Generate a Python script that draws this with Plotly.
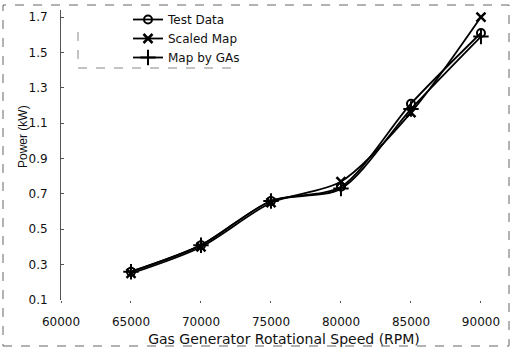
import plotly.graph_objects as go

rpm = [65000, 70000, 75000, 80000, 85000, 90000]
test_data = [0.26, 0.41, 0.66, 0.74, 1.21, 1.61]
scaled_map = [0.25, 0.40, 0.65, 0.77, 1.16, 1.70]
map_by_gas = [0.26, 0.41, 0.66, 0.73, 1.18, 1.59]

x_ticks = [60000, 65000, 70000, 75000, 80000, 85000, 90000]
y_ticks = [0.1, 0.3, 0.5, 0.7, 0.9, 1.1, 1.3, 1.5, 1.7]

font_family = "DejaVu Sans, sans-serif"
L, R, T, B = 61, 4, 10, 51
W, H = 511, 351
pw, ph = W - L - R, H - T - B


def px(x):
    return (x - L) / pw


def py(y):
    return (H - B - y) / ph


fig = go.Figure()
fig.add_trace(go.Scatter(
    x=rpm, y=test_data, name="Test Data", mode="lines+markers",
    line=dict(color="black", width=1.8, shape="spline", smoothing=0.8),
    marker=dict(symbol="circle-open", size=8, color="black", line=dict(width=2))))
fig.add_trace(go.Scatter(
    x=rpm, y=scaled_map, name="Scaled Map", mode="lines+markers",
    line=dict(color="black", width=1.8, shape="spline", smoothing=0.8),
    marker=dict(symbol="x-thin-open", size=9, color="black", line=dict(width=2.5))))
fig.add_trace(go.Scatter(
    x=rpm, y=map_by_gas, name="Map by GAs", mode="lines+markers",
    line=dict(color="black", width=1.8, shape="spline", smoothing=0.8),
    marker=dict(symbol="cross-thin-open", size=11, color="black", line=dict(width=2))))

fig.update_layout(
    width=W, height=H,
    margin=dict(l=L, r=R, t=T, b=B, autoexpand=False),
    paper_bgcolor="white", plot_bgcolor="white",
    font=dict(family=font_family, color="#111", size=12),
    showlegend=True,
    legend=dict(x=px(128), y=py(5), xanchor="left", yanchor="top",
                bgcolor="rgba(0,0,0,0)", borderwidth=0,
                font=dict(size=12), tracegroupgap=0, itemwidth=30),
    xaxis=dict(range=[60000, 91860], tickvals=x_ticks,
               ticktext=[str(v) for v in x_ticks],
               showgrid=False, zeroline=False, showline=False,
               ticks="outside", ticklen=2, tickcolor="#555",
               ticklabelstandoff=9, automargin=False,
               tickfont=dict(size=12),
               title=dict(text="Gas Generator Rotational Speed (RPM)",
                          font=dict(size=14), standoff=5)),
    yaxis=dict(range=[0.1, 1.74], tickvals=y_ticks,
               ticktext=[f"{v:.1f}" for v in y_ticks],
               showgrid=False, zeroline=False, showline=True,
               linecolor="#555", linewidth=1,
               ticks="inside", ticklen=3, tickcolor="#555",
               ticklabelstandoff=10, automargin=False,
               tickfont=dict(size=12)),
)

# y-axis title placed as in the reference (slightly above centre)
fig.add_annotation(text="Power (kW)", xref="paper", yref="paper",
                   x=px(23), y=py(137), xanchor="center", yanchor="middle",
                   textangle=-90, showarrow=False,
                   font=dict(size=12, family="Liberation Sans, Arial, sans-serif"))

# partial dashed legend frame (left and bottom edges)
fig.add_shape(type="line", xref="paper", yref="paper",
              x0=px(78), x1=px(78), y0=py(32), y1=py(68),
              line=dict(color="#888", width=1, dash="dash"))
fig.add_shape(type="line", xref="paper", yref="paper",
              x0=px(78), x1=px(236), y0=py(68), y1=py(68),
              line=dict(color="#888", width=1, dash="dash"))

# scanned page frame
fig.add_shape(type="rect", xref="paper", yref="paper",
              x0=px(3), x1=px(509), y0=py(346), y1=py(5),
              line=dict(color="#666", width=1, dash="dash"))

fig.write_html("out.html",
               config={"displayModeBar": False},
               post_script="document.body.style.margin='0';"
                           "document.body.style.overflow='hidden';")
